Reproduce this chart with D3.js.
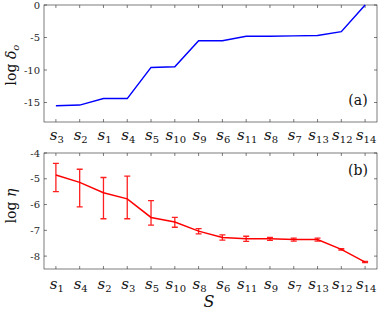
<!DOCTYPE html>
<html><head><meta charset="utf-8">
<script src="https://cdn.jsdelivr.net/npm/d3@7"></script>
<style>body{margin:0;background:#fff}svg{display:block}</style>
</head><body>
<script>
// Panel (a)
const catsA = ["3","2","1","4","5","10","9","6","11","8","7","13","12","14"];
const valsA = [-15.5,-15.4,-14.4,-14.4,-9.6,-9.5,-5.5,-5.5,-4.8,-4.8,-4.75,-4.7,-4.1,0];
const ticksA = [0,-5,-10,-15];
// Panel (b)
const catsB = ["1","4","2","3","5","10","8","6","11","9","7","13","12","14"];
const valsB = [-4.85,-5.14,-5.54,-5.78,-6.5,-6.68,-7.03,-7.28,-7.33,-7.33,-7.36,-7.36,-7.74,-8.23];
const lowB  = [-5.5,-6.09,-6.55,-6.55,-6.8,-6.88,-7.14,-7.38,-7.43,-7.39,-7.42,-7.42,-7.77,-8.25];
const highB = [-4.4,-4.63,-4.95,-4.9,-5.85,-6.5,-6.93,-7.18,-7.23,-7.27,-7.30,-7.30,-7.71,-8.21];
const ticksB = [-4,-5,-6,-7,-8];

const W=382,H=311;
const svg=d3.select("body").append("svg").attr("width",W).attr("height",H);
const axc="#262626";
const serif="'DejaVu Serif', 'Liberation Serif', serif";

function panel(cfg){
  const g=svg.append("g");
  const x=d3.scaleLinear().domain([0.5,14.5]).range([44,377]);
  const y=d3.scaleLinear().domain(cfg.ydom).range(cfg.yrange);
  const y0=cfg.yrange[0], y1=cfg.yrange[1];
  g.append("rect").attr("x",44).attr("y",y1).attr("width",333).attr("height",y0-y1)
    .attr("fill","none").attr("stroke",axc).attr("stroke-width",0.6);
  const idx=d3.range(1,15);
  g.selectAll(".xt").data(idx).join("path")
    .attr("d",d=>`M${x(d)},${y0}v-3M${x(d)},${y1}v3`).attr("stroke",axc).attr("stroke-width",0.6);
  g.selectAll(".yt").data(cfg.ticks).join("path")
    .attr("d",d=>`M44,${y(d)}h3M377,${y(d)}h-3`).attr("stroke",axc).attr("stroke-width",0.6);
  g.selectAll(".yl").data(cfg.ticks).join("text")
    .attr("x",40).attr("y",d=>y(d)+3.5).attr("text-anchor","end")
    .style("font-family",serif).attr("font-size",10).attr("fill",axc)
    .text(d=>d===0?"0":"-"+Math.abs(d));
  const xl=g.selectAll(".xl").data(cfg.cats).join("text")
    .attr("x",(d,i)=>x(i+1)+1).attr("y",y0+cfg.xlOff).attr("text-anchor","middle")
    .style("font-family",serif).attr("fill","#111");
  xl.append("tspan").attr("font-style","italic").attr("font-size",15).text("s");
  xl.append("tspan").attr("font-size",10).attr("dy",3).text(d=>d);
  g.append("text").attr("x",358).attr("y",cfg.labY).attr("text-anchor","middle")
    .style("font-family",serif).attr("font-size",14).attr("fill","#111").text(cfg.lab);
  return {g,x,y};
}

const A=panel({ydom:[-18,0],yrange:[122,5],ticks:ticksA,cats:catsA,lab:"(a)",labY:105,xlOff:17.5});
A.g.append("path").datum(valsA)
  .attr("d",d3.line().x((d,i)=>A.x(i+1)).y(d=>A.y(d)))
  .attr("fill","none").attr("stroke","#0000ff").attr("stroke-width",1.5);

const B=panel({ydom:[-8.5,-4],yrange:[269,153],ticks:ticksB,cats:catsB,lab:"(b)",labY:175,xlOff:20});
const eb=B.g.append("g").attr("stroke","#ff2020").attr("stroke-width",1.3).attr("fill","none");
eb.selectAll("path").data(valsB).join("path")
  .attr("d",(d,i)=>{const xx=B.x(i+1),lo=B.y(lowB[i]),hi=B.y(highB[i]);
    return `M${xx},${lo}V${hi}M${xx-3},${lo}h6M${xx-3},${hi}h6`;});
B.g.append("path").datum(valsB)
  .attr("d",d3.line().x((d,i)=>B.x(i+1)).y(d=>B.y(d)))
  .attr("fill","none").attr("stroke","#ff0000").attr("stroke-width",1.5);

const ya=svg.append("text").attr("transform","translate(16,65) rotate(-90)").attr("text-anchor","middle")
  .style("font-family",serif).attr("font-size",14).attr("fill","#111");
ya.append("tspan").text("log ");
ya.append("tspan").attr("font-style","italic").text("δ");
ya.append("tspan").attr("font-style","italic").attr("font-size",10).attr("dy",3).text("o");
const yb=svg.append("text").attr("transform","translate(16,206) rotate(-90)").attr("text-anchor","middle")
  .style("font-family",serif).attr("font-size",14).attr("fill","#111");
yb.append("tspan").text("log ");
yb.append("tspan").attr("font-style","italic").text("η");
svg.append("text").attr("x",209).attr("y",307).attr("text-anchor","middle")
  .style("font-family",serif).attr("font-style","italic").attr("font-size",16).attr("fill","#111").text("S");
</script>
</body></html>
